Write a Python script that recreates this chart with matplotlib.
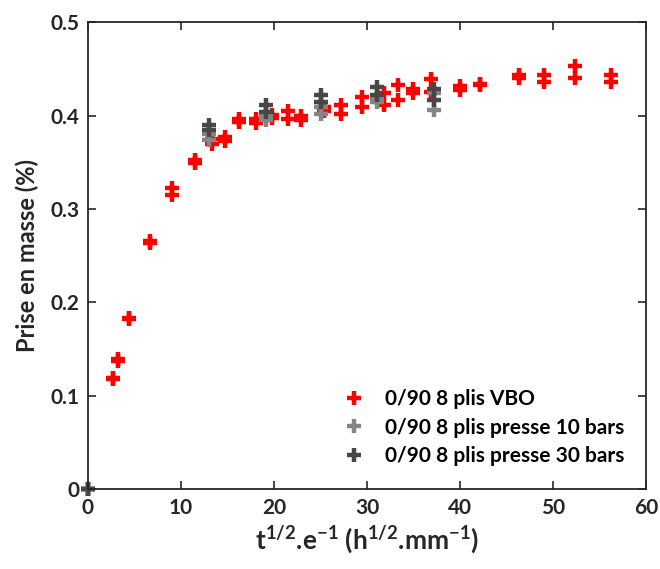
import numpy as np
import matplotlib
matplotlib.use("Agg")
import matplotlib.pyplot as plt

plt.rcParams['font.family'] = ['Lato', 'DejaVu Sans']
plt.rcParams['font.weight'] = 'bold'
plt.rcParams['mathtext.fontset'] = 'custom'
plt.rcParams['mathtext.rm'] = 'Lato:bold'
plt.rcParams['mathtext.bf'] = 'Lato:bold'
plt.rcParams['mathtext.it'] = 'Lato:bold'
plt.rcParams['mathtext.default'] = 'bf'

# VBO (rouge)
x_vbo = [2.7, 3.3, 4.4, 6.7, 9.1, 11.5, 13.4, 14.7, 16.2, 18.1, 19.8, 21.5, 22.9,
         25.4, 27.2, 29.5, 31.8, 33.3, 34.9, 36.9, 40.0, 42.2, 46.3, 49.0, 52.4, 56.2]
y_vbo_1 = [0.119, 0.139, 0.183, 0.266, 0.323, 0.352, 0.375, 0.377, 0.396, 0.396, 0.401, 0.405, 0.400,
           0.409, 0.411, 0.420, 0.424, 0.433, 0.428, 0.439, 0.432, 0.434, 0.444, 0.444, 0.453, 0.444]
y_vbo_2 = [0.118, 0.137, 0.182, 0.264, 0.315, 0.349, 0.370, 0.373, 0.393, 0.392, 0.397, 0.396, 0.395,
           0.405, 0.402, 0.409, 0.411, 0.417, 0.424, 0.425, 0.427, 0.433, 0.440, 0.436, 0.440, 0.436]

# presse 10 bars
x_p10 = [0, 13.0, 19.1, 25.05, 31.1, 37.2]
y_p10_1 = [0, 0.380, 0.400, 0.409, 0.418, 0.424]
y_p10_2 = [0, 0.374, 0.395, 0.402, 0.415, 0.406]

# presse 30 bars
x_p30 = [0, 13.0, 19.1, 25.05, 31.1, 37.2]
y_p30_1 = [0, 0.390, 0.411, 0.422, 0.431, 0.428]
y_p30_2 = [0, 0.385, 0.404, 0.415, 0.422, 0.417]

series = [
    (x_vbo, y_vbo_1, y_vbo_2, '#ff0000', '0/90 8 plis VBO'),
    (x_p10, y_p10_1, y_p10_2, '#858585', '0/90 8 plis presse 10 bars'),
    (x_p30, y_p30_1, y_p30_2, '#474747', '0/90 8 plis presse 30 bars'),
]

fig = plt.figure(figsize=(6.6, 5.69), dpi=100)
ax = fig.add_axes([0.133, 0.140, 0.846, 0.821])

for xs, ya, yb, col, lab in series:
    ax.plot(xs, ya, ls='none', marker='+', ms=10, mew=3.2, color=col, label=lab, clip_on=False)
    ax.plot(xs, yb, ls='none', marker='+', ms=10, mew=3.2, color=col, clip_on=False)

ax.set_xlim(0, 60)
ax.set_ylim(0, 0.5)
ax.set_xticks(np.arange(0, 61, 10))
ax.set_yticks([0, 0.1, 0.2, 0.3, 0.4, 0.5])
ax.set_yticklabels(['0', '0.1', '0.2', '0.3', '0.4', '0.5'])
ax.tick_params(direction='in', length=6, width=1.2, top=True, right=True,
               labelsize=15, colors='#262626', pad=6)
for s in ax.spines.values():
    s.set_linewidth(1.3)
    s.set_color('#262626')

ax.set_ylabel('Prise en masse (%)', fontsize=17, fontweight='bold', color='#262626', labelpad=8)
ax.set_xlabel(r't$^{1/2}$.e$^{-1}$ (h$^{1/2}$.mm$^{-1}$)', fontsize=19, fontweight='bold',
              color='#262626', labelpad=5)

leg = ax.legend(loc='lower right', frameon=False, fontsize=15, handletextpad=0.5,
                labelspacing=0.4, bbox_to_anchor=(0.995, 0.01))
for t in leg.get_texts():
    t.set_color('#000000')

fig.savefig('out.png', dpi=100)
